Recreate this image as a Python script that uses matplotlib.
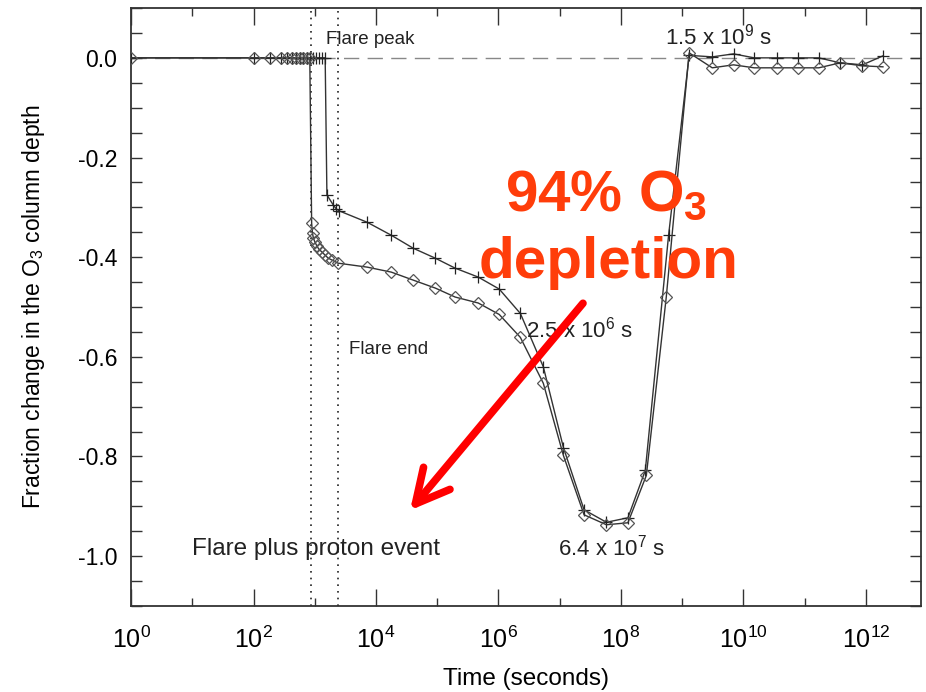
import matplotlib
matplotlib.use("Agg")
import matplotlib.pyplot as plt
import numpy as np
from matplotlib.ticker import MultipleLocator, FixedLocator, NullFormatter

plt.rcParams['font.family'] = ['Liberation Sans', 'DejaVu Sans']
plt.rcParams['mathtext.fontset'] = 'custom'
plt.rcParams['mathtext.rm'] = 'Liberation Sans'
plt.rcParams['mathtext.bf'] = 'Liberation Sans:bold'
plt.rcParams['mathtext.it'] = 'Liberation Sans:italic'

# model run with diamonds (flare plus proton event)
t_diamond = [1, 100, 186, 282, 355, 427, 500, 575, 645, 740, 830,
             890, 920, 950, 1010, 1090, 1170, 1320, 1480, 1660, 1930, 2400,
             7200, 17800, 40500, 93000, 196000, 468000, 1.03e6, 2.28e6, 5.4e6,
             1.15e7, 2.5e7, 5.8e7, 1.3e8, 2.6e8, 5.5e8, 1.3e9, 3.1e9, 6.9e9,
             1.5e10, 3.5e10, 7.9e10, 1.7e11, 3.8e11, 8.8e11, 1.9e12]
o3_diamond = [0, 0, 0, 0, 0, 0, 0, 0, 0, 0, 0,
              -0.332, -0.352, -0.362, -0.370, -0.378, -0.384, -0.390, -0.396, -0.402, -0.406, -0.412,
              -0.42, -0.43, -0.446, -0.462, -0.48, -0.492, -0.515, -0.561, -0.653,
              -0.798, -0.917, -0.937, -0.933, -0.838, -0.48, 0.01, -0.02, -0.014,
              -0.02, -0.02, -0.02, -0.02, -0.01, -0.016, -0.018]

# model run with plus markers
t_plus = [1, 100, 186, 282, 355, 427, 500, 575, 645, 740, 830, 930, 1050, 1170, 1320, 1480,
          1580, 2000, 2240, 2500,
          7200, 17800, 40500, 93000, 196000, 468000, 1.03e6, 2.28e6, 5.4e6,
          1.15e7, 2.5e7, 5.8e7, 1.3e8, 2.5e8, 6.0e8, 1.3e9, 3.1e9, 6.9e9,
          1.5e10, 3.5e10, 7.9e10, 1.7e11, 3.8e11, 8.8e11, 1.9e12]
o3_plus = [0, 0, 0, 0, 0, 0, 0, 0, 0, 0, 0, 0, 0, 0, 0, 0,
           -0.275, -0.295, -0.303, -0.307,
           -0.33, -0.356, -0.382, -0.402, -0.422, -0.44, -0.464, -0.513, -0.62,
           -0.782, -0.907, -0.932, -0.923, -0.828, -0.356, 0.005, 0.002, 0.008,
           0.0, 0.0, 0.0, 0.0, -0.01, -0.014, 0.004]

flare_peak = 870
flare_end = 2400

fig = plt.figure(figsize=(9.26, 6.92), dpi=100)
ax = fig.add_axes([0.1415, 0.1243, 0.8531, 0.8641])

ax.axhline(0, color='#888888', lw=1.0, dashes=(11, 6), zorder=1)
ax.axvline(flare_peak, color='#222222', lw=1.2, ls=(0, (1, 3)), zorder=1)
ax.axvline(flare_end, color='#222222', lw=1.2, ls=(0, (1, 3)), zorder=1)

ax.plot(t_plus, o3_plus, color='#333333', lw=1.0, marker='+', ms=8, mew=0.9,
        mec='#222222', zorder=3)
ax.plot(t_diamond, o3_diamond, color='#333333', lw=1.0, marker='D', ms=6.5, mew=0.9,
        mec='#555555', mfc='none', zorder=3)

ax.set_xscale('log')
ax.set_xlim(1, 10**12.9)
ax.set_ylim(-1.1, 0.1)

ax.xaxis.set_major_locator(FixedLocator([10.0**k for k in range(0, 13, 2)]))
ax.xaxis.set_minor_locator(FixedLocator([10.0**k for k in range(1, 13, 2)]))
ax.xaxis.set_minor_formatter(NullFormatter())
ax.yaxis.set_major_locator(MultipleLocator(0.2))
ax.yaxis.set_minor_locator(MultipleLocator(0.05))
ax.yaxis.set_major_formatter(lambda v, p: '%.1f' % v)

ax.tick_params(which='both', direction='in', top=True, right=True, width=1.0, color='#333333')
ax.tick_params(axis='x', which='major', length=12, pad=15, labelsize=18)
ax.tick_params(axis='x', which='minor', length=6)
ax.tick_params(axis='y', which='both', length=8, pad=10, labelsize=16.5)
for sp in ax.spines.values():
    sp.set_linewidth(1.3)
    sp.set_color('#333333')

ax.set_xlabel('Time (seconds)', fontsize=17.5, labelpad=11)
ax.set_ylabel('Fraction change in the O$_3$ column depth', fontsize=16.5, labelpad=22)

ax.text(1550, 0.036, 'Flare peak', fontsize=13.5, va='center', color='#222222')
ax.text(3650, -0.585, 'Flare end', fontsize=13.5, va='center', color='#222222')
ax.text(10, -0.985, 'Flare plus proton event', fontsize=17.5, va='center', color='#222222')
ax.text(2.8e6, -0.561, '2.5 x 10$^{6}$ s', fontsize=16, va='baseline', color='#222222')
ax.text(9.5e6, -0.999, '6.4 x 10$^{7}$ s', fontsize=16, va='baseline', color='#222222')
ax.text(5.3e8, 0.026, '1.5 x 10$^{9}$ s', fontsize=16, va='baseline', color='#222222')

ax.text(0.601, 0.6605, '94% O$_{\\mathbf{3}}$', transform=ax.transAxes, fontsize=42,
        fontweight='bold', color='#ff3d0a', ha='center', va='baseline')
ax.text(0.605, 0.5485, 'depletion', transform=ax.transAxes, fontsize=42,
        fontweight='bold', color='#ff3d0a', ha='center', va='baseline')

ax.annotate('', xy=(3.6e4, -0.908), xytext=(2.4e7, -0.4925),
            arrowprops=dict(arrowstyle='->,head_length=1.2,head_width=0.62',
                            lw=5.5, color='#ff0000', mutation_scale=20,
                            shrinkA=0, shrinkB=0, capstyle='round', joinstyle='round'),
            zorder=5)

fig.savefig('out.png', dpi=100)
